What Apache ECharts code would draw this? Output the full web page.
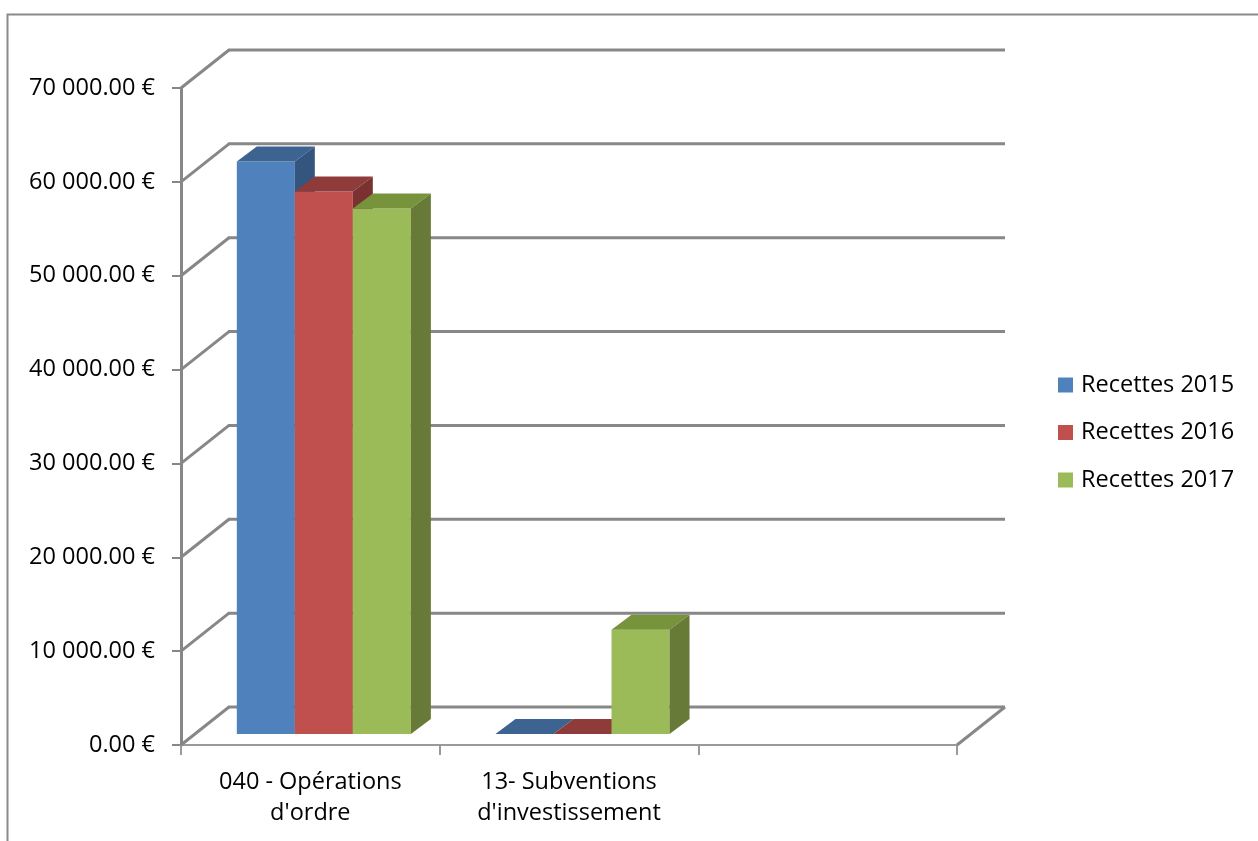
<!DOCTYPE html>
<html>
<head>
<meta charset="utf-8">
<script src="https://cdn.jsdelivr.net/npm/echarts@6/dist/echarts.min.js"></script>
<style>
html,body{margin:0;padding:0;background:#fff;}
#chart{width:1258px;height:841px;}
</style>
</head>
<body>
<div id="chart"></div>
<script>
// ---- data ----
const categories = ["040 - Opérations\nd'ordre", "13- Subventions\nd'investissement", ""];
const seriesNames = ["Recettes 2015", "Recettes 2016", "Recettes 2017"];
const recettes2015 = [61000, 0];
const recettes2016 = [57800, 0];
const recettes2017 = [56000, 11100];
const yTickValues = [0, 10000, 20000, 30000, 40000, 50000, 60000, 70000];

// ---- style ----
const FONT = 'Open Sans';
const FS = 23.5;
const frontColors = ['#4F81BD', '#C0504D', '#9BBB59'];
const topColors = ['#3D6491', '#8E3B3A', '#77933C'];
const sideColors = ['#33557E', '#7A3230', '#677A37'];
const WALL_DX = 48, WALL_DY = -38;     // back wall offset
const FRONT_DX = 13.5, FRONT_DY = -11; // bar front face depth
const BAR_DX = 20, BAR_DY = -15;       // bar depth
const BAR_FRAC = 0.2243;               // bar width / band width
const gridColor = '#878787';

function fmtEuro(v) {
  const s = v.toFixed(2);
  const parts = s.split('.');
  const intPart = parts[0].replace(/\B(?=(\d{3})+(?!\d))/g, ' ');
  return intPart + '.' + parts[1] + ' €';
}

function wallRender(params, api) {
  const v = api.value(1);
  const y = api.coord([0, v])[1];
  const cs = params.coordSys;
  const x0 = cs.x, x1 = cs.x + cs.width;
  const lineStyle = {stroke: gridColor, lineWidth: 3};
  const children = [
    {type: 'line', shape: {x1: x0, y1: y, x2: x0 + WALL_DX, y2: y + WALL_DY}, style: lineStyle},
    {type: 'line', shape: {x1: x0 + WALL_DX - 1, y1: y + WALL_DY, x2: x1 + WALL_DX, y2: y + WALL_DY}, style: lineStyle}
  ];
  if (v === 0) {
    children.push({type: 'line', shape: {x1: x1, y1: y, x2: x1 + WALL_DX, y2: y + WALL_DY}, style: lineStyle});
  }
  return {type: 'group', children: children};
}

function makeBarRender(si) {
  return function (params, api) {
    const idx = api.value(0);
    const val = api.value(1);
    const top = api.coord([idx, val]);
    const base = api.coord([idx, 0]);
    const band = api.size([1, 0])[0];
    const bw = band * BAR_FRAC;
    const x0 = top[0] + (si - 1.5) * bw + FRONT_DX;
    const x1 = x0 + bw;
    const yt = top[1] + FRONT_DY;
    const yb = base[1] + FRONT_DY;
    const children = [];
    children.push({type: 'polygon', shape: {points: [[x0, yt], [x1, yt], [x1, yb], [x0, yb]]},
      style: {fill: frontColors[si]}});
    children.push({type: 'polygon', shape: {points: [[x0, yt], [x1, yt], [x1 + BAR_DX, yt + BAR_DY], [x0 + BAR_DX, yt + BAR_DY]]},
      style: {fill: topColors[si]}});
    if (yb - yt > 0.5) {
      children.push({type: 'polygon', shape: {points: [[x1, yt], [x1 + BAR_DX, yt + BAR_DY], [x1 + BAR_DX, yb + BAR_DY], [x1, yb]]},
        style: {fill: sideColors[si]}});
    }
    return {type: 'group', children: children};
  };
}

const allValues = [recettes2015, recettes2016, recettes2017];
const barSeries = allValues.map(function (vals, si) {
  return {
    name: seriesNames[si],
    type: 'custom',
    renderItem: makeBarRender(si),
    itemStyle: {color: frontColors[si]},
    data: vals.map(function (v, i) { return [i, v]; }),
    encode: {x: 0, y: 1},
    z: 3 + si,
    silent: true
  };
});

const chart = echarts.init(document.getElementById('chart'), null, {renderer: 'canvas'});
chart.setOption({
  backgroundColor: '#ffffff',
  animation: false,
  textStyle: {fontFamily: FONT},
  graphic: [{
    type: 'rect', left: 5, top: 12, shape: {x: 0, y: 0, width: 1300, height: 900},
    style: {fill: 'none', stroke: '#8a8a8a', lineWidth: 2}, silent: true
  }],
  grid: {left: 181, right: 301, top: 88, bottom: 96, containLabel: false},
  legend: {
    orient: 'vertical', left: 1058, top: 373, padding: 0,
    itemWidth: 15, itemHeight: 15, itemGap: 23.5,
    icon: 'rect',
    data: seriesNames,
    textStyle: {fontFamily: FONT, fontSize: FS, color: '#000', padding: [0, 0, 0, 3]}
  },
  xAxis: {
    type: 'category', data: categories, boundaryGap: true,
    axisLine: {show: true, lineStyle: {color: '#9a9a9a', width: 2}},
    axisTick: {show: true, length: 10, lineStyle: {color: '#9a9a9a', width: 2}},
    axisLabel: {fontFamily: FONT, fontSize: FS, color: '#000', margin: 22, lineHeight: 31, interval: 0},
    splitLine: {show: false}
  },
  yAxis: {
    type: 'value', min: 0, max: 70000, interval: 10000,
    axisLine: {show: true, lineStyle: {color: gridColor, width: 3}},
    axisTick: {show: true, inside: false, length: 9, lineStyle: {color: gridColor, width: 2}},
    axisLabel: {fontFamily: FONT, fontSize: FS, color: '#000', margin: 26, formatter: fmtEuro},
    splitLine: {show: false}
  },
  series: [{
    name: 'walls', type: 'custom', renderItem: wallRender,
    data: yTickValues.map(function (v) { return [0, v]; }),
    encode: {x: 0, y: 1}, z: 1, silent: true
  }].concat(barSeries)
});
</script>
</body>
</html>
